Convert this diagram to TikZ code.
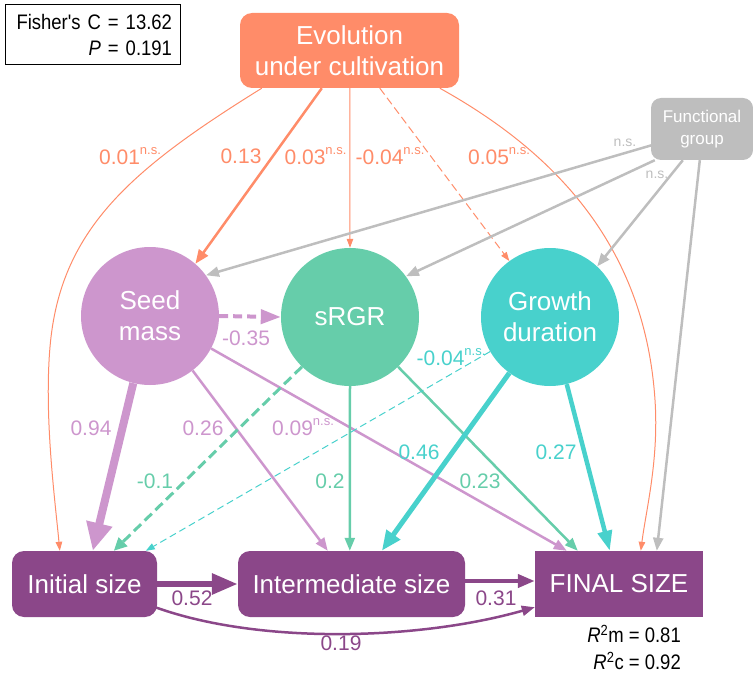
\documentclass[tikz,border=0pt]{standalone}
\usepackage{fontspec}
\setmainfont{Liberation Sans}
\newfontfamily\narrowfont{Liberation Sans}[FakeStretch=0.88]
\usetikzlibrary{arrows.meta,calc}
\definecolor{evoc}{HTML}{FF8C69}
\definecolor{seedc}{HTML}{CD96CD}
\definecolor{rgrc}{HTML}{66CDAA}
\definecolor{durc}{HTML}{48D1CC}
\definecolor{sizec}{HTML}{8B4789}
\definecolor{fgc}{HTML}{BEBEBE}
\newcommand{\NSmark}{\raisebox{0.45em}{\fontsize{13}{13}\selectfont n.s.}}
\begin{document}
\begin{tikzpicture}[x=1pt,y=-1pt,
  box/.style={rounded corners=12pt, inner sep=0pt, text=white, align=center, font=\fontsize{26}{31}\selectfont},
  circ/.style={circle, minimum size=138pt, inner sep=0pt, text=white, align=center, font=\fontsize{26}{31}\selectfont},
  lab/.style={font=\fontsize{21}{25}\selectfont, inner sep=0pt},
  smalllab/.style={font=\fontsize{14}{14}\selectfont, inner sep=0pt, text=fgc},
  tipXS/.style={-{Triangle[length=9pt,width=6.5pt]}},
  tipM/.style={-{Triangle[length=13pt,width=10pt]}},
  tipG/.style={-{Triangle[length=13pt,width=10pt]}},
  tipO/.style={-{Triangle[length=14pt,width=11pt]}},
  tipXL/.style={-{Triangle[length=26pt,width=20pt]}},
  tipXXL/.style={-{Triangle[length=28pt,width=25pt]}},
  evoline/.style={draw=evoc, line width=1pt},
  fgline/.style={draw=fgc, line width=2.5pt, tipG},
]
\useasboundingbox (0,0) rectangle (753,682);

% nodes
\node[draw=black, line width=1pt, text width=159pt, align=right, inner xsep=8pt, inner ysep=0pt,
      minimum height=60pt, font=\narrowfont\fontsize{21}{26}\selectfont] (fisher) at (92.5,35)
      {Fisher's C = 13.62\\\textit{P} = 0.191};
\node[box, fill=evoc, minimum width=219pt, minimum height=75pt] (evo) at (349.5,50.5) {Evolution\\under cultivation};
\node[box, fill=fgc, rounded corners=10pt, minimum width=102pt, minimum height=62pt,
      font=\fontsize{17}{22}\selectfont] (fg) at (702,129) {Functional\\group};
\node[circ, fill=seedc] (seed) at (150,316) {Seed\\mass};
\node[circ, fill=rgrc] (rgr) at (350,317) {sRGR};
\node[circ, fill=durc] (dur) at (550,317) {Growth\\duration};
\node[box, fill=sizec, minimum width=145pt, minimum height=66pt] (init) at (84.5,584) {Initial size};
\node[box, fill=sizec, minimum width=227pt, minimum height=66pt] (inter) at (351.5,584) {Intermediate size};
\node[box, fill=sizec, sharp corners, minimum width=168pt, minimum height=66pt] (final) at (619,584) {FINAL SIZE};

% orange edges
\draw[evoline, tipXS] ($(evo.south west)+(22,0)$) .. controls (130,170) and (60,230) .. (50,347)
   .. controls (44,417) and (55,500) .. ($(init.north west)+(48,0)$);
\draw[draw=evoc, line width=2.5pt, tipO] ($(evo.south west)+(82,0)$) -- (seed.49);
\draw[evoline, tipXS] ($(evo.south west)+(110,0)$) -- (rgr.north);
\draw[evoline, dash pattern=on 8pt off 4pt, tipXS] ($(evo.south west)+(140,0)$) -- (dur.126);
\draw[evoline, tipXS] ($(evo.south west)+(200,0)$) .. controls (560,155) and (645,250) .. (655,400)
   .. controls (659,460) and (646,510) .. ($(final.north west)+(106,0)$);

% gray edges
\draw[fgline] ($(fg.south west)+(1,-15)$) -- (seed.36);
\draw[fgline] ($(fg.south west)+(4,0)$) -- (rgr.36);
\draw[fgline] ($(fg.south west)+(32,0)$) -- (dur.47);
\draw[fgline] ($(fg.south west)+(49,0)$) -- ($(final.north west)+(122,0)$);

% seed mass edges
\draw[draw=seedc, line width=4pt, dash pattern=on 9pt off 5pt, -{Triangle[length=20pt,width=14pt]}] (seed.east) -- (rgr.west);
\draw[draw=seedc, line width=8pt, tipXXL] (seed.-104) -- ($(init.north west)+(81,0)$);
\draw[draw=seedc, line width=2.5pt, tipM] (seed.-52) -- ($(inter.north west)+(90,0)$);
\draw[draw=seedc, line width=2.5pt, tipM] (seed.-28) -- ($(final.north west)+(32,0)$);

% sRGR edges
\draw[draw=rgrc, line width=3pt, dash pattern=on 10pt off 5pt, -{Triangle[length=13pt,width=12pt]}] (rgr.-134) -- ($(init.north west)+(102,0)$);
\draw[draw=rgrc, line width=2.5pt, tipM] (rgr.south) -- ($(inter.north west)+(112,0)$);
\draw[draw=rgrc, line width=2.5pt, tipM] (rgr.-46) -- ($(final.north west)+(43,0)$);

% growth duration edges
\draw[draw=durc, line width=1pt, dash pattern=on 7pt off 4pt, tipXS] (dur.-150) -- ($(init.north west)+(134,0)$);
\draw[draw=durc, line width=5pt, -{Triangle[length=20pt,width=16pt]}] (dur.-126) -- ($(inter.north west)+(144,0)$);
\draw[draw=durc, line width=4.5pt, -{Triangle[length=20pt,width=14pt]}] (dur.-76) -- ($(final.north west)+(75,0)$);

% size edges
\draw[draw=sizec, line width=6pt, tipXL] (init.east) -- (inter.west);
\draw[draw=sizec, line width=4pt, -{Triangle[length=17pt,width=13pt]}] ([yshift=3pt]inter.east) -- ([yshift=3pt]final.west);
\draw[draw=sizec, line width=2.5pt, tipG] ($(init.south east)+(-2,-10)$) .. controls (260,645) and (420,640) .. ($(final.south west)+(0,-10)$);

% labels
\node[lab, text=evoc] (l1) at (130,156) {0.01\NSmark};
\node[lab, text=evoc] (l2) at (241,156) {0.13};
\node[lab, text=evoc] (l3) at (315.5,156) {0.03\NSmark};
\node[lab, text=evoc] (l4) at (390,156) {-0.04\NSmark};
\node[lab, text=evoc] (l5) at (499,156) {0.05\NSmark};
\node[smalllab] (g1) at (625,143) {n.s.};
\node[smalllab] (g2) at (657,175) {n.s.};
\node[lab, text=seedc] (l6) at (246,338) {-0.35};
\node[lab, text=seedc] (l7) at (91,428) {0.94};
\node[lab, text=seedc] (l8) at (203,428) {0.26};
\node[lab, text=seedc] (l9) at (303,427) {0.09\NSmark};
\node[lab, text=rgrc] (l10) at (155,481) {-0.1};
\node[lab, text=rgrc] (l11) at (330,481) {0.2};
\node[lab, text=rgrc] (l12) at (480,481) {0.23};
\node[lab, text=durc] (l13) at (451,357) {-0.04\NSmark};
\node[lab, text=durc] (l14) at (419,452) {0.46};
\node[lab, text=durc] (l15) at (556,452) {0.27};
\node[lab, text=sizec] (l16) at (192,598) {0.52};
\node[lab, text=sizec] (l17) at (496,598) {0.31};
\node[lab, text=sizec] (l18) at (341,643) {0.19};
\node[anchor=east, inner sep=0pt, font=\narrowfont\fontsize{21}{24}\selectfont] (r1) at (681,634) {\textit{R}\textsuperscript{2}m = 0.81};
\node[anchor=east, inner sep=0pt, font=\narrowfont\fontsize{21}{24}\selectfont] (r2) at (681,661) {\textit{R}\textsuperscript{2}c = 0.92};
\end{tikzpicture}
\end{document}
